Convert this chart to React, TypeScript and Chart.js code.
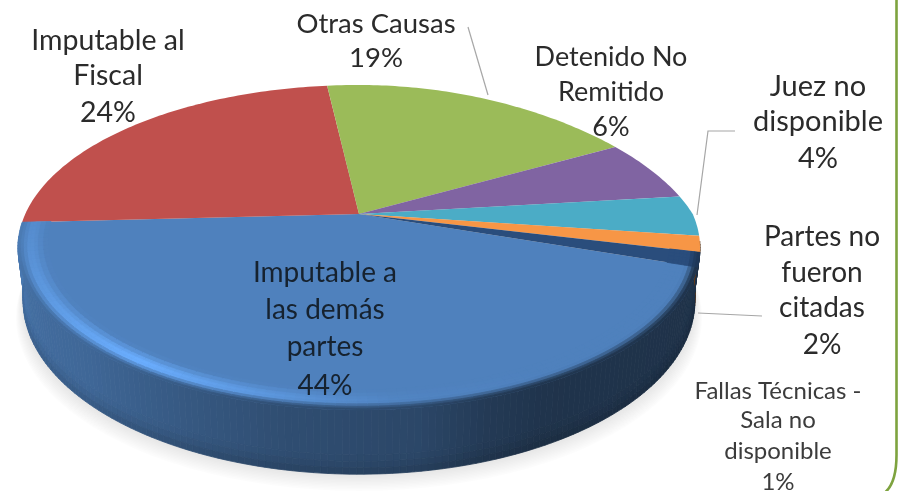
import React, { useEffect, useRef } from "react";
import { Chart, registerables } from "chart.js";

Chart.register(...registerables);

const categories = [
  "Imputable a las demás partes",
  "Imputable al Fiscal",
  "Otras Causas",
  "Detenido No Remitido",
  "Juez no disponible",
  "Partes no fueron citadas",
  "Fallas Técnicas - Sala no disponible",
];
const shares = [44, 24, 19, 6, 4, 1.6, 1.4];
const percentLabels = ["44%", "24%", "19%", "6%", "4%", "2%", "1%"];
const sliceColors = ["#4f81bd", "#c0504d", "#9bbb59", "#8064a2", "#4bacc6", "#f79646", "#2a4d7c"];

type Lbl = { lines: string[]; x: number; ys: number[]; size: number; color: string };
const labelBlocks: Lbl[] = [
  { lines: ["Imputable a", "las demás", "partes", percentLabels[0]], x: 325, ys: [273, 310, 347, 386], size: 28, color: "#16222f" },
  { lines: ["Imputable al", "Fiscal", percentLabels[1]], x: 108, ys: [41, 76, 113], size: 28.5, color: "#2b2b2b" },
  { lines: ["Otras Causas", percentLabels[2]], x: 376, ys: [24, 58], size: 27.5, color: "#2b2b2b" },
  { lines: ["Detenido No", "Remitido", percentLabels[3]], x: 611, ys: [57, 92, 127], size: 27, color: "#2b2b2b" },
  { lines: ["Juez no", "disponible", percentLabels[4]], x: 818, ys: [87, 122, 159], size: 29, color: "#2b2b2b" },
  { lines: ["Partes no", "fueron", "citadas", percentLabels[5]], x: 822, ys: [237, 273, 308, 345], size: 28, color: "#2b2b2b" },
  { lines: ["Fallas Técnicas -", "Sala no", "disponible", percentLabels[6]], x: 778, ys: [391, 420, 451, 482], size: 24, color: "#3c3c3c" },
];
const leaderLines = [
  [[468, 27], [488, 95]],
  [[735, 131], [708, 131], [697, 215]],
  [[698, 313], [762, 316]],
];

const deg = Math.PI / 180;
const CX = 359, CY = 214, A = 333.7, B = 155.6, K = 0.206, D = 51;

function topPoint(theta: number, r = 1) {
  const x = r * Math.cos(theta), y = r * Math.sin(theta), w = 1 - K * y;
  const squeeze = x > 0 && y < 0 ? 14 * r * Math.abs(Math.sin(2 * theta)) : 0;
  return [CX + (A * x) / w - squeeze, CY + (B * y) / w];
}
function bottomPoint(theta: number, f = 1) {
  const x = Math.cos(theta), y = Math.sin(theta), w = 1 - K * y;
  return [CX + (A * 0.985 * x) / w, CY + (B * y + D * f) / w];
}
function lerpStops(stops: number[][], v: number) {
  if (v <= stops[0][0]) return stops[0].slice(1);
  for (let i = 1; i < stops.length; i++) {
    if (v <= stops[i][0]) {
      const t = (v - stops[i - 1][0]) / (stops[i][0] - stops[i - 1][0]);
      return stops[i].slice(1).map((c, j) => stops[i - 1][j + 1] + (c - stops[i - 1][j + 1]) * t);
    }
  }
  return stops[stops.length - 1].slice(1);
}
const sideStops = [[12, 0.38], [63, 0.4], [72, 0.45], [82, 0.55], [100, 0.6], [114, 0.68], [134, 0.8], [155, 0.85], [170, 0.95], [180, 0.95]];
const glowStops = [[12, 1], [60, 1], [85, 1.03], [100, 1.15], [125, 1.36], [150, 1.2], [168, 1.12], [180, 1.08]];
const sideShade = (d: number) => lerpStops(sideStops, d)[0];
const glowShade = (d: number) => lerpStops(glowStops, d)[0];

function rgb(hex: string) {
  return [1, 3, 5].map((i) => parseInt(hex.slice(i, i + 2), 16));
}
function css(c: number[]) {
  return `rgb(${c.map((v) => Math.min(255, Math.round(v))).join(",")})`;
}
function quad(ctx: CanvasRenderingContext2D, p: number[][], color: string) {
  ctx.beginPath();
  ctx.moveTo(p[0][0], p[0][1]);
  for (let i = 1; i < p.length; i++) ctx.lineTo(p[i][0], p[i][1]);
  ctx.closePath();
  ctx.fillStyle = color;
  ctx.strokeStyle = color;
  ctx.lineWidth = 0.8;
  ctx.fill();
  ctx.stroke();
}

const wallFractions = [0, 0.7, 0.8, 0.9, 1];
const wallDarken = [1, 1, 0.97, 0.92, 0.86];

const pie3d = {
  id: "pie3d",
  beforeDatasetDraw(chart: any) {
    const ctx: CanvasRenderingContext2D = chart.ctx;
    const arcs = chart.getDatasetMeta(0).data;
    const colors = chart.data.datasets[0].backgroundColor as string[];
    ctx.save();

    // soft floor shadow: stacked translucent copies of the base outline
    for (let layer = 12; layer >= 1; layer--) {
      ctx.fillStyle = "rgba(0,0,0,0.0125)";
      ctx.beginPath();
      for (let a = 0; a <= 360; a += 3) {
        const p = bottomPoint(a * deg);
        const px = CX + (p[0] - CX) * (1 + 0.0018 * layer);
        const py = p[1] + 1.4 * layer;
        if (a === 0) ctx.moveTo(px, py);
        else ctx.lineTo(px, py);
      }
      ctx.closePath();
      ctx.fill();
    }

    const eachStep = (el: any, step: number, fn: (t0: number, t1: number, d: number) => void) => {
      const start = el.startAngle, end = el.endAngle;
      const n = Math.max(1, Math.ceil((end - start) / (step * deg)));
      for (let i = 0; i < n; i++) {
        const t0 = start + ((end - start) * i) / n;
        const t1 = start + ((end - start) * (i + 1)) / n;
        const d = ((((t0 + t1) / 2) / deg) % 360 + 360) % 360;
        fn(t0, t1, d);
      }
    };

    // side wall
    arcs.forEach((el: any, idx: number) => {
      const base = rgb(colors[idx === 6 ? 0 : idx]);
      eachStep(el, 1, (t0, t1, d) => {
        if (d < 10 || d > 172) return;
        const s = sideShade(d);
        for (let j = 0; j < wallFractions.length - 1; j++) {
          const f0 = wallFractions[j], f1 = wallFractions[j + 1];
          const p00 = j === 0 ? topPoint(t0) : bottomPoint(t0, f0);
          const p01 = j === 0 ? topPoint(t1) : bottomPoint(t1, f0);
          const p10 = bottomPoint(t0, f1), p11 = bottomPoint(t1, f1);
          const m = (wallDarken[j] + wallDarken[j + 1]) / 2;
          quad(ctx, [p00, p01, p11, p10], css(base.map((c) => c * s * m)));
        }
      });
    });

    // flat top face
    arcs.forEach((el: any, idx: number) => {
      ctx.beginPath();
      ctx.moveTo(CX, CY);
      const n = Math.max(4, Math.ceil((el.endAngle - el.startAngle) / deg));
      for (let i = 0; i <= n; i++) {
        const p = topPoint(el.startAngle + ((el.endAngle - el.startAngle) * i) / n);
        ctx.lineTo(p[0], p[1]);
      }
      ctx.closePath();
      ctx.fillStyle = colors[idx];
      ctx.fill();
    });

    // bevelled rim on the near edge of the two front slices
    const radii = [0.915, 0.93, 0.945, 0.955, 0.965, 0.975, 0.985, 0.993, 1];
    arcs.forEach((el: any, idx: number) => {
      if (idx !== 0 && idx !== 6) return;
      const base = rgb(colors[idx]);
      eachStep(el, 1.5, (t0, t1, d) => {
        if (d < 8) return;
        const wall = idx === 6 ? base.map((c) => c * 0.7) : base.map((c) => c * sideShade(d));
        const glow = base.map((c) => c * glowShade(d));
        for (let j = 0; j < radii.length - 1; j++) {
          const mid = (radii[j] + radii[j + 1]) / 2;
          const u = (mid - radii[0]) / (1 - radii[0]);
          let c: number[];
          if (u < 0.6) {
            const v = u / 0.6;
            const e = v * v * (3 - 2 * v);
            c = base.map((b, i) => b + (glow[i] - b) * e);
          } else {
            const v = (u - 0.6) / 0.4;
            const e = v * v * (3 - 2 * v);
            c = glow.map((g, i) => g + (wall[i] - g) * e);
          }
          quad(ctx, [topPoint(t0, radii[j]), topPoint(t1, radii[j]), topPoint(t1, radii[j + 1]), topPoint(t0, radii[j + 1])], css(c));
        }
      });
    });
    ctx.restore();
    return false;
  },
  afterDraw(chart: any) {
    const ctx: CanvasRenderingContext2D = chart.ctx;
    ctx.save();
    // leader lines
    ctx.strokeStyle = "#a6a6a6";
    ctx.lineWidth = 1.2;
    leaderLines.forEach((pts) => {
      ctx.beginPath();
      pts.forEach((p, i) => (i === 0 ? ctx.moveTo(p[0], p[1]) : ctx.lineTo(p[0], p[1])));
      ctx.stroke();
    });
    // labels
    ctx.textAlign = "center";
    ctx.textBaseline = "middle";
    labelBlocks.forEach((b) => {
      ctx.font = `${b.size}px Lato, "Open Sans", sans-serif`;
      ctx.fillStyle = b.color;
      b.lines.forEach((line, i) => ctx.fillText(line, b.x, b.ys[i]));
    });
    // green frame at the right edge
    ctx.strokeStyle = "#7ea33f";
    ctx.lineWidth = 2.6;
    ctx.beginPath();
    ctx.moveTo(896.5, -2);
    ctx.lineTo(896.5, 455);
    ctx.quadraticCurveTo(896.5, 485, 883, 494);
    ctx.stroke();
    ctx.restore();
  },
};

export default function App() {
  const ref = useRef<HTMLCanvasElement>(null);
  useEffect(() => {
    document.body.style.margin = "0";
    document.body.style.background = "#fff";
    const chart = new Chart(ref.current!, {
      type: "pie",
      data: {
        labels: categories,
        datasets: [{ data: shares, backgroundColor: sliceColors, borderWidth: 0 }],
      },
      options: {
        responsive: false,
        animation: false,
        rotation: 108.6,
        layout: { padding: 0 },
        plugins: { legend: { display: false }, tooltip: { enabled: false } },
      },
      plugins: [pie3d as any],
    });
    return () => chart.destroy();
  }, []);
  return (
    <canvas
      ref={ref}
      width={899}
      height={491}
      style={{ display: "block", width: 899, height: 491, filter: "blur(0.7px)" }}
    />
  );
}
